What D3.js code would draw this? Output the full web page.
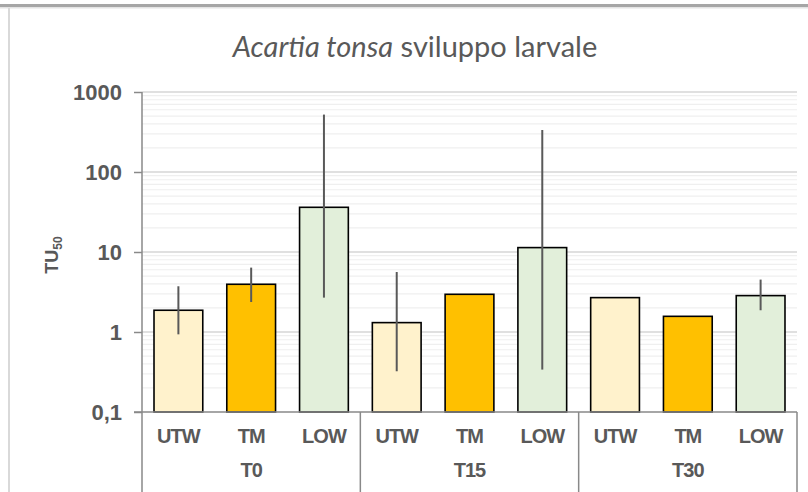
<!DOCTYPE html>
<html>
<head>
<meta charset="utf-8">
<script src="https://cdn.jsdelivr.net/npm/d3@7"></script>
<style>
  body { margin: 0; background: #fff; }
  svg { display: block; }
  .axis path, .axis line { stroke: #898989; stroke-width: 1.5; }
  .axis text { font-family: "Liberation Sans", Arial, sans-serif; font-weight: bold; font-size: 22px; fill: #595959; }
</style>
</head>
<body>
<div id="main"></div>
<script>
var groups = ['T0', 'T15', 'T30'];
var series = ['UTW', 'TM', 'LOW'];
var colors = ['#FFF2CC', '#FFC000', '#E2EFDA'];

// TU50 per series, one value per group (T0, T15, T30)
var utw = [1.87, 1.31, 2.69];
var tm = [3.95, 2.96, 1.57];
var low = [36.2, 11.35, 2.85];

// error bar ends (null = no bar)
var utwLo = [0.935, 0.323, null], utwHi = [3.73, 5.62, null];
var tmLo = [2.37, null, null], tmHi = [6.38, null, null];
var lowLo = [2.69, 0.339, 1.87], lowHi = [522, 335, 4.52];

var yTicks = [0.1, 1, 10, 100, 1000];

var width = 808, height = 492;
var plotLeft = 142, plotRight = 797, plotTop = 92, plotBottom = 412;

var svg = d3.select("#main").append("svg")
    .attr("width", width)
    .attr("height", height);

// frame
svg.append("rect").attr("x", 0).attr("y", 4).attr("width", width).attr("height", 3).attr("fill", "#a6a6a6");
svg.append("rect").attr("x", 0).attr("y", 7).attr("width", width).attr("height", 1.5).attr("fill", "#e4e4e4");
svg.append("rect").attr("x", 8).attr("y", 8).attr("width", 2).attr("height", height).attr("fill", "#d9d9d9");

var vals = [utw, tm, low], los = [utwLo, tmLo, lowLo], his = [utwHi, tmHi, lowHi];
var data = [];
groups.forEach(function(g, gi) {
  series.forEach(function(s, si) {
    data.push({group: g, series: s, value: vals[si][gi], lo: los[si][gi], hi: his[si][gi], color: colors[si]});
  });
});

var x0 = d3.scaleBand().domain(groups).range([plotLeft, plotRight]);
var x1 = d3.scaleBand().domain(series).range([0, x0.bandwidth()])
    .paddingInner(0.33).paddingOuter(0.165);
var y = d3.scaleLog().domain([0.1, 1000]).range([plotBottom, plotTop]);

function cx(d) { return x0(d.group) + x1(d.series) + x1.bandwidth() / 2; }

// minor gridlines
var minor = [];
[0.1, 1, 10, 100].forEach(function(dec) {
  for (var k = 2; k <= 9; k++) minor.push(dec * k);
});
svg.append("g").selectAll("line").data(minor).enter().append("line")
    .attr("x1", plotLeft).attr("x2", plotRight)
    .attr("y1", function(d) { return y(d); }).attr("y2", function(d) { return y(d); })
    .attr("stroke", "#efefef").attr("stroke-width", 1.2);

// major gridlines
svg.append("g").selectAll("line").data(yTicks.slice(1)).enter().append("line")
    .attr("x1", plotLeft).attr("x2", plotRight)
    .attr("y1", function(d) { return y(d); }).attr("y2", function(d) { return y(d); })
    .attr("stroke", "#d6d6d6").attr("stroke-width", 1.5);

// bars
svg.append("g").selectAll("rect").data(data).enter().append("rect")
    .attr("x", function(d) { return x0(d.group) + x1(d.series); })
    .attr("y", function(d) { return y(d.value); })
    .attr("width", x1.bandwidth())
    .attr("height", function(d) { return y(0.1) - y(d.value); })
    .attr("fill", function(d) { return d.color; })
    .attr("stroke", "#000")
    .attr("stroke-width", 1.6);

// error bars
svg.append("g").selectAll("line").data(data.filter(function(d) { return d.lo != null; })).enter().append("line")
    .attr("x1", cx).attr("x2", cx)
    .attr("y1", function(d) { return y(d.lo); })
    .attr("y2", function(d) { return y(d.hi); })
    .attr("stroke", "#595959")
    .attr("stroke-width", 2);

// y axis
var yAxis = d3.axisLeft(y)
    .tickValues(yTicks)
    .tickSize(8)
    .tickPadding(12)
    .tickFormat(function(d) { return d === 0.1 ? "0,1" : d; });
var ya = svg.append("g")
    .attr("class", "axis")
    .attr("transform", "translate(" + plotLeft + ",0)")
    .call(yAxis);
ya.select(".domain").attr("d", "M0," + plotTop + "V" + plotBottom);
ya.selectAll("text").attr("dy", "0.36em");

// x axis: baseline and group dividers
var xa = svg.append("g").attr("class", "axis");
xa.append("line").attr("x1", plotLeft - 8).attr("x2", plotRight).attr("y1", plotBottom).attr("y2", plotBottom);
var dividers = groups.map(function(g) { return x0(g); }).concat([plotRight]);
xa.selectAll(".div").data(dividers).enter().append("line")
    .attr("class", "div")
    .attr("x1", function(d) { return d; }).attr("x2", function(d) { return d; })
    .attr("y1", plotBottom).attr("y2", height);

xa.selectAll(".cat").data(data).enter().append("text")
    .attr("class", "cat")
    .attr("x", cx)
    .attr("y", 443)
    .attr("text-anchor", "middle")
    .style("font-size", "20px")
    .style("letter-spacing", "-1px")
    .text(function(d) { return d.series; });

xa.selectAll(".grp").data(groups).enter().append("text")
    .attr("class", "grp")
    .attr("x", function(d) { return x0(d) + x0.bandwidth() / 2; })
    .attr("y", 477)
    .attr("text-anchor", "middle")
    .style("font-size", "20px")
    .style("letter-spacing", "-1px")
    .text(function(d) { return d; });

// y title
var yt = svg.append("text")
    .attr("transform", "translate(58,255) rotate(-90)")
    .attr("text-anchor", "middle")
    .style("font-family", "'Liberation Sans', Arial, sans-serif")
    .style("font-weight", "bold")
    .style("font-size", "18px")
    .attr("fill", "#595959");
yt.append("tspan").text("TU");
yt.append("tspan").attr("dy", "0.35em").style("font-size", "12px").text("50");

// title
var title = svg.append("text")
    .attr("x", 415)
    .attr("y", 57)
    .attr("text-anchor", "middle")
    .style("font-family", "Lato, 'Open Sans', sans-serif")
    .style("font-size", "29px")
    .attr("fill", "#595959");
title.append("tspan").style("font-style", "italic").text("Acartia tonsa");
title.append("tspan").text(" sviluppo larvale");
</script>
</body>
</html>
